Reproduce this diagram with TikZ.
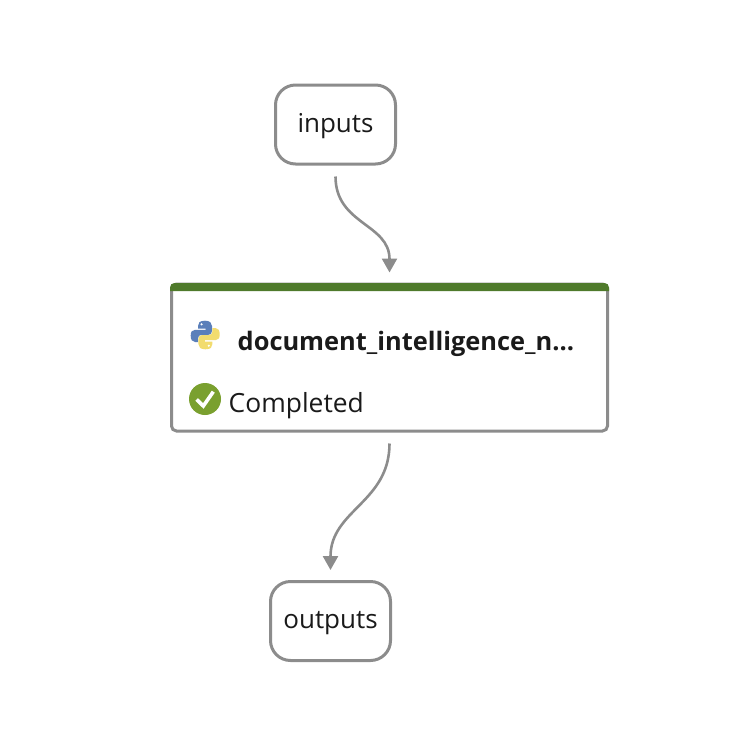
\documentclass[tikz,border=0pt]{standalone}
\usepackage{fontspec}
\setmainfont{Open Sans}
\usetikzlibrary{arrows.meta}
\definecolor{flowgray}{HTML}{8C8C8C}
\definecolor{bargreen}{HTML}{4F7A2B}
\definecolor{okgreen}{HTML}{7AA02F}
\definecolor{pyblue}{HTML}{5A7FBA}
\definecolor{pyyellow}{HTML}{F2DC6E}
\definecolor{inktext}{HTML}{1A1A1A}
\tikzset{
  portbox/.style={draw=flowgray,line width=3pt,rounded corners=20pt,fill=white,
    minimum width=120pt,minimum height=79pt,inner sep=0pt,text=inktext,
    text height=20pt,text depth=5pt,
    font=\fontsize{26}{30}\selectfont},
  cardbox/.style={draw=flowgray,line width=3pt,rounded corners=5pt,fill=white,
    minimum width=436pt,minimum height=147pt,inner sep=0pt},
  flowline/.style={draw=flowgray,line width=2.6pt,shorten <=11pt,shorten >=10pt,
    -{Triangle[width=15pt,length=14pt]}},
  cardtext/.style={inner sep=0pt,text=inktext,anchor=base west,
    font=\fontsize{26.4}{30}\selectfont},
}
\def\pysnake{(205,320.7) .. controls (199.5,320.7) and (198,323) .. (198,326) -- (198,328.5)
  -- (205.5,328.5) -- (205.5,329.8) -- (195,329.8) .. controls (192,329.8) and (190.7,332) .. (190.7,335.5)
  .. controls (190.7,339.5) and (192,342) .. (195,342) -- (198,342) -- (198,338.5)
  .. controls (198,336) and (199.5,335) .. (201.5,335) -- (208,335)
  .. controls (210.5,335) and (212,333.5) .. (212,331) -- (212,326)
  .. controls (212,323) and (210,320.7) .. (205,320.7) -- cycle}
\begin{document}
\begin{tikzpicture}[x=1pt,y=-1pt]
  \useasboundingbox (0,0) rectangle (736,752);
  \node[portbox] (inputs) at (335.5,124.5) {inputs};
  \node[portbox] (outputs) at (330.5,621) {outputs};
  \node[cardbox] (card) at (389.5,357.5) {};
  % green bar on top of the card
  \fill[bargreen] (170,291) [rounded corners=4.5pt] -- (170,283) -- (609,283) [sharp corners] -- (609,291) -- cycle;
  % python logo
  \fill[pyblue] \pysnake;
  \fill[pyyellow,rotate around={180:(205.2,335)}] \pysnake;
  \fill[white] (201.6,324.3) circle [radius=1.2];
  \fill[white] (208.8,345.7) circle [radius=1.2];
  \node[cardtext,font=\fontsize{25.4}{30}\selectfont\bfseries] (title) at (237.5,350) {document\_intelligence\_n...};
  % status
  \fill[okgreen] (205,399) circle [radius=16];
  \draw[white,line width=3.6pt] (196.7,399.5) -- (203.3,406) -- (213.3,391.7);
  \node[cardtext] (status) at (228.5,412) {Completed};
  \draw[flowline] (inputs.south) .. controls +(0,59) and +(0,-59) .. (card.north);
  \draw[flowline] (card.south) .. controls +(0,70) and +(0,-70) .. (outputs.north);
\end{tikzpicture}
\end{document}
